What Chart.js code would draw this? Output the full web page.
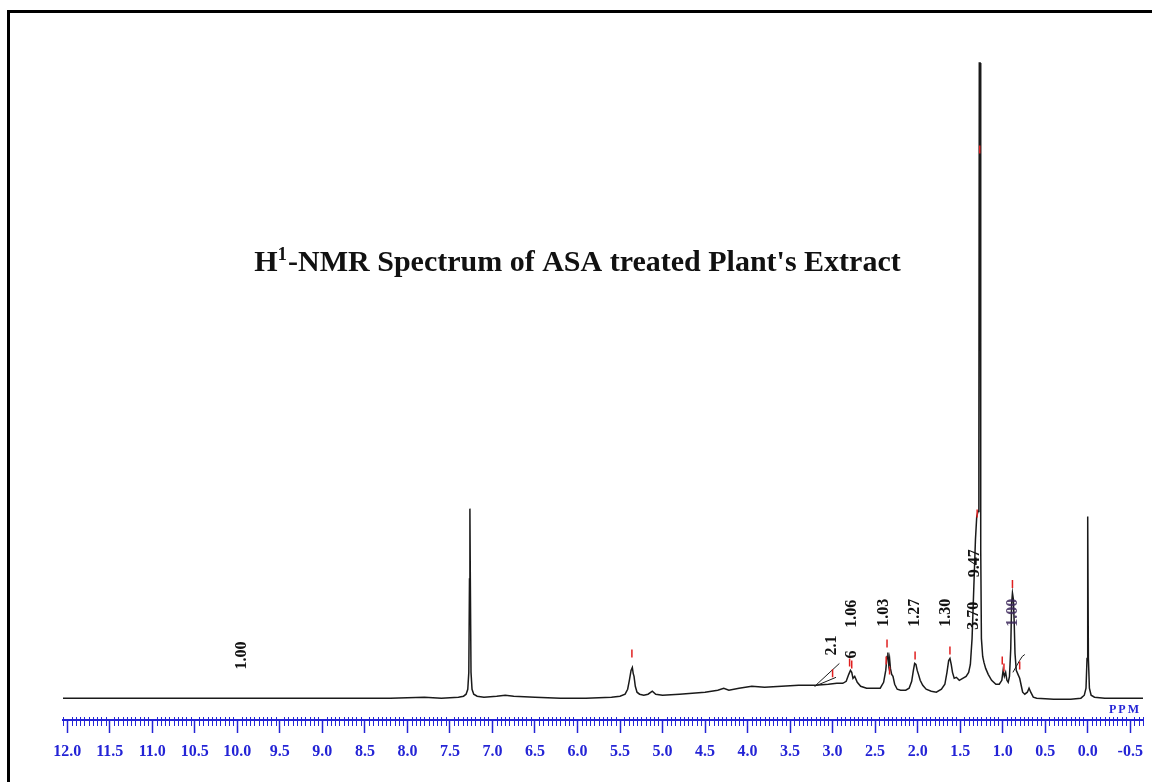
<!DOCTYPE html>
<html>
<head>
<meta charset="utf-8">
<title>H1-NMR Spectrum</title>
<script src="https://cdn.jsdelivr.net/npm/chart.js@4.4.1/dist/chart.umd.min.js"></script>
<style>
  html, body { margin: 0; padding: 0; background: #fff; }
  #wrap { position: relative; width: 1152px; height: 782px; overflow: hidden; }
  #frame { position: absolute; left: 7px; top: 10px; width: 1200px; height: 800px;
           border-left: 3px solid #000; border-top: 3px solid #000; pointer-events: none; }
  canvas { position: absolute; left: 0; top: 0; }
</style>
</head>
<body>
<div id="wrap">
  <canvas id="nmr" width="1152" height="782"></canvas>
  <div id="frame"></div>
</div>
<script>
// chemical shift (ppm) and intensity
const specPpm = [
  12.05, 11.0, 10.0, 9.0, 8.2, 7.8, 7.6, 7.4,
  7.34, 7.31, 7.29, 7.278, 7.27, 7.265, 7.26, 7.252, 7.24, 7.22, 7.18, 7.1,
  6.95, 6.85, 6.75, 6.5, 6.2, 5.9, 5.6, 5.5,
  5.44, 5.41, 5.39, 5.37, 5.355, 5.345, 5.335, 5.32, 5.3, 5.27, 5.22, 5.17, 5.12, 5.08, 5.0,
  4.8, 4.5, 4.35, 4.28, 4.22, 4.1, 3.95, 3.8, 3.6, 3.4, 3.2, 3.05, 2.95, 2.88,
  2.84, 2.81, 2.79, 2.775, 2.76, 2.74, 2.71, 2.67, 2.6, 2.5, 2.44,
  2.40, 2.375, 2.36, 2.35, 2.34, 2.33, 2.32, 2.305, 2.29, 2.27, 2.24, 2.2, 2.14,
  2.10, 2.07, 2.05, 2.035, 2.02, 2.005, 1.99, 1.97, 1.94, 1.9, 1.84, 1.78,
  1.72, 1.68, 1.655, 1.635, 1.62, 1.605, 1.59, 1.57, 1.545, 1.51, 1.47, 1.43,
  1.40, 1.38, 1.36, 1.34, 1.32, 1.305, 1.29, 1.28, 1.275, 1.265, 1.258, 1.25,
  1.235, 1.22, 1.2, 1.17, 1.13, 1.08, 1.04,
  1.01, 0.995, 0.98, 0.965, 0.95, 0.935, 0.92, 0.905, 0.895, 0.885, 0.875, 0.865, 0.855,
  0.84, 0.82, 0.8, 0.78, 0.765, 0.74, 0.71, 0.69, 0.67, 0.64, 0.6, 0.4, 0.2,
  0.08, 0.04, 0.02, 0.008, 0.0, -0.008, -0.02, -0.04, -0.08, -0.2, -0.65
];
const specInt = [
  0, 0, 0, 0, 0, 1, 0, 1,
  2, 4, 9, 26, 120, 191, 120, 26, 9, 4, 2, 1,
  2, 3, 2, 1, 0, 0, 1, 2,
  4, 9, 18, 28, 31, 25, 22, 12, 6, 4, 3, 4, 7, 4, 3,
  4, 6, 8, 10, 8, 10, 12, 11, 12, 13, 13, 14, 15, 15,
  17, 24, 28, 26, 20, 22, 16, 12, 10, 10, 10,
  16, 28, 42, 46, 34, 40, 30, 24, 22, 14, 9, 8, 8,
  10, 17, 28, 35, 34, 28, 24, 18, 13, 9, 7, 6,
  9, 14, 26, 38, 40, 34, 26, 20, 21, 18, 20, 22,
  26, 34, 60, 110, 160, 183, 188, 240, 640, 640, 150, 60,
  42, 36, 30, 24, 18, 14, 14,
  18, 28, 22, 26, 18, 16, 22, 50, 95, 106, 100, 78, 45,
  28, 24, 20, 12, 6, 4, 6, 10, 6, 1, 0, -1, -1,
  0, 3, 10, 40, 183, 40, 10, 3, 1, 0, 0
];

// integral traces
const integA_ppm = [3.21, 2.92];
const integA_int = [12, 35];
const integB_ppm = [3.21, 2.96];
const integB_int = [12, 21];
const integC_ppm = [0.88, 0.84, 0.80, 0.77, 0.74];
const integC_int = [26, 32, 38, 42, 44];

// red peak-pick marks
const markPpm = [5.36, 3.0, 2.80, 2.775, 2.36, 2.37, 2.33, 2.03, 1.62, 1.30, 1.27, 0.885, 1.005, 0.985, 0.80];
const markInt = [45, 25, 36, 34, 55, 38, 28, 43, 48, 186, 553, 115, 38, 31, 33];

// integration values (rotated text)
const integText = ['1.00', '2.1', '6', '1.06', '1.03', '1.27', '1.30', '3.70', '9.47', '1.00'];
const integTextPpm = [9.95, 3.01, 2.77, 2.77, 2.40, 2.03, 1.67, 1.34, 1.33, 0.885];
const integTextInt = [43, 53, 44, 85, 86, 86, 86, 83, 136, 86];

const chartTitle = ['H', '1', "-NMR Spectrum of ASA treated Plant's Extract"];
const axisName = 'PPM';

const blue = '#2424d6';
const serif = '"Liberation Serif", "Times New Roman", serif';

const toPoints = (xs, ys) => xs.map((x, i) => ({ x: x, y: ys[i] }));

const extras = {
  id: 'extras',
  afterDraw(chart) {
    const ctx = chart.ctx;
    const sx = chart.scales.x;
    const sy = chart.scales.y;
    const area = chart.chartArea;
    ctx.save();

    // minor ticks on the ppm axis
    ctx.strokeStyle = blue;
    ctx.lineWidth = 1;
    ctx.beginPath();
    for (let k = -13; k <= 241; k++) {
      if (k % 10 === 0) continue;
      const v = k * 0.05;
      if (v < sx.min || v > sx.max) continue;
      const px = Math.round(sx.getPixelForValue(v)) + 0.5;
      ctx.moveTo(px, area.bottom - 3);
      ctx.lineTo(px, area.bottom + 6);
    }
    ctx.stroke();

    // axis name
    ctx.fillStyle = blue;
    ctx.font = `bold 12px ${serif}`;
    ctx.textAlign = 'right';
    ctx.textBaseline = 'bottom';
    if ('letterSpacing' in ctx) ctx.letterSpacing = '2px';
    ctx.fillText(axisName, area.right - 2, area.bottom - 4);
    if ('letterSpacing' in ctx) ctx.letterSpacing = '0px';

    // title with superscript
    ctx.fillStyle = '#111';
    const big = `bold 30px ${serif}`;
    const small = `bold 19px ${serif}`;
    ctx.font = big;
    const w0 = ctx.measureText(chartTitle[0]).width;
    const w2 = ctx.measureText(chartTitle[2]).width;
    ctx.font = small;
    const w1 = ctx.measureText(chartTitle[1]).width + 1;
    let tx = sx.getPixelForValue(6.0) - (w0 + w1 + w2) / 2;
    const ty = sy.getPixelForValue(440);
    ctx.textAlign = 'left';
    ctx.textBaseline = 'alphabetic';
    ctx.font = big;
    ctx.fillText(chartTitle[0], tx, ty + 9);
    tx += w0;
    ctx.font = small;
    ctx.fillText(chartTitle[1], tx, ty - 2);
    tx += w1;
    ctx.font = big;
    ctx.fillText(chartTitle[2], tx, ty + 9);

    // integration values
    ctx.font = `bold 16px ${serif}`;
    ctx.textAlign = 'center';
    ctx.textBaseline = 'middle';
    integText.forEach((t, i) => {
      ctx.save();
      ctx.translate(sx.getPixelForValue(integTextPpm[i]), sy.getPixelForValue(integTextInt[i]));
      ctx.rotate(-Math.PI / 2);
      ctx.fillStyle = i === integText.length - 1 ? 'rgba(60,40,90,0.85)' : '#111';
      ctx.fillText(t, 0, 0);
      ctx.restore();
    });
    ctx.restore();
  }
};

const lineSet = (data, width) => ({
  data: data,
  showLine: true,
  borderColor: '#1a1a1a',
  borderWidth: width,
  pointRadius: 0,
  tension: 0,
  order: 2
});

new Chart(document.querySelector('#nmr'), {
  type: 'scatter',
  data: {
    datasets: [
      lineSet(toPoints(specPpm, specInt), 1.5),
      lineSet(toPoints(integA_ppm, integA_int), 1),
      lineSet(toPoints(integB_ppm, integB_int), 1),
      lineSet(toPoints(integC_ppm, integC_int), 1),
      {
        data: toPoints(markPpm, markInt),
        showLine: false,
        pointStyle: 'line',
        rotation: 90,
        pointRadius: 4,
        pointBorderColor: '#e02020',
        pointBorderWidth: 1.5,
        order: 0
      }
    ]
  },
  options: {
    responsive: false,
    animation: false,
    layout: { padding: { left: 63, right: 9, top: 0, bottom: 0 } },
    plugins: { legend: { display: false }, tooltip: { enabled: false } },
    scales: {
      x: {
        type: 'linear',
        reverse: true,
        min: -0.65,
        max: 12.05,
        afterFit: (scale) => { scale.height = 62; },
        border: { color: blue, width: 2 },
        grid: { drawOnChartArea: false, drawTicks: true, tickLength: 13, tickColor: blue, tickWidth: 1.5 },
        ticks: {
          stepSize: 0.5,
          includeBounds: false,
          autoSkip: false,
          maxRotation: 0,
          padding: 9,
          color: blue,
          font: { family: serif, size: 16, weight: 'bold' },
          callback: (v) => Number(v).toFixed(1)
        }
      },
      y: { display: false, min: -22, max: 698 }
    }
  },
  plugins: [extras]
});
</script>
</body>
</html>
